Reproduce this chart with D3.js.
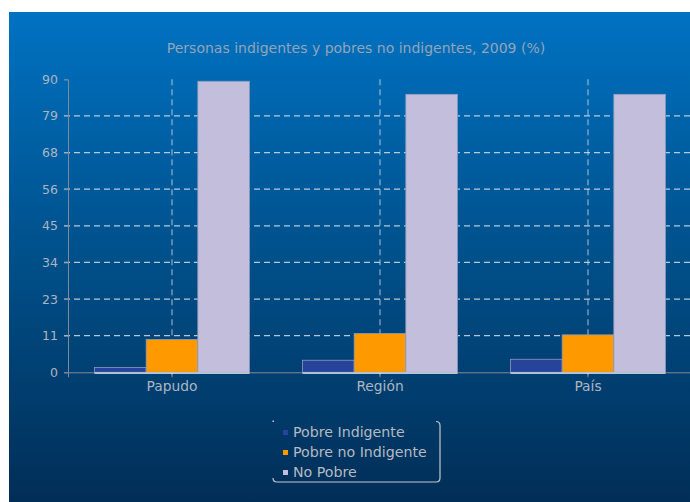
<!DOCTYPE html>
<html><head><meta charset="utf-8">
<script src="https://cdn.jsdelivr.net/npm/d3@7"></script>
<style>body{margin:0;background:#fff}svg{display:block}text{font-family:"DejaVu Sans",sans-serif}</style>
</head><body><svg id="c" width="690" height="502"></svg>
<script>
const categories = ["Papudo", "Región", "País"];
const series = ["Pobre Indigente", "Pobre no Indigente", "No Pobre"];
const pobreIndigente = [1.5, 3.7, 4.0];
const pobreNoIndigente = [10.1, 11.9, 11.5];
const noPobre = [89.4, 85.4, 85.4];
const tickValues = [0, 11.25, 22.5, 33.75, 45, 56.25, 67.5, 78.75, 90];
const tickLabels = ["0", "11", "23", "34", "45", "56", "68", "79", "90"];
const colors = ["#27449a", "#ff9900", "#c3bedc"];
const title = "Personas indigentes y pobres no indigentes, 2009 (%)";

const values = [pobreIndigente, pobreNoIndigente, noPobre];
const svg = d3.select("#c");
const defs = svg.append("defs");
const g = defs.append("linearGradient").attr("id","bg").attr("x1",0).attr("y1",0).attr("x2",0).attr("y2",1);
g.append("stop").attr("offset","0%").attr("stop-color","#0072c2");
g.append("stop").attr("offset","45%").attr("stop-color","#00538f");
g.append("stop").attr("offset","100%").attr("stop-color","#012e57");
svg.append("rect").attr("x",9).attr("y",12).attr("width",681).attr("height",490).attr("fill","url(#bg)");

svg.append("text").attr("x",356).attr("y",52.5).attr("text-anchor","middle")
  .attr("font-size",14).attr("fill","#93a5b9").text(title);

const L = 68, R = 692, T = 79.3, B = 372.3;
const y = d3.scaleLinear().domain([0,90]).range([B,T]);
const x0 = d3.scaleBand().domain(categories).range([L,R]).paddingInner(0.255).paddingOuter(0.1275);
const x1 = d3.scaleBand().domain(series).range([0,x0.bandwidth()]);

// horizontal grid
svg.append("g").selectAll("line").data(tickValues.filter(v=>v>0&&v<90)).join("line")
  .attr("x1",L-4).attr("x2",R).attr("y1",d=>y(d)).attr("y2",d=>y(d))
  .attr("stroke","#d4deea").attr("stroke-opacity",0.85).attr("stroke-dasharray","6,4").attr("stroke-width",1.2);
// vertical grid at category centers
svg.append("g").selectAll("line").data(categories).join("line")
  .attr("x1",d=>x0(d)+x0.bandwidth()/2).attr("x2",d=>x0(d)+x0.bandwidth()/2)
  .attr("y1",T).attr("y2",B+5)
  .attr("stroke","#d4deea").attr("stroke-opacity",0.8).attr("stroke-dasharray","6,4").attr("stroke-width",1);

// axes
const yAxis = d3.axisLeft(y).tickValues(tickValues).tickFormat((d,i)=>tickLabels[i]).tickSize(4).tickPadding(6);
const ya = svg.append("g").attr("transform",`translate(${L},0)`).call(yAxis);
ya.select(".domain").attr("stroke","#7d8a99");
ya.selectAll(".tick line").attr("stroke","#7d8a99");
ya.selectAll("text").attr("font-size",12.5).attr("fill","#aab5c2").attr("font-family","DejaVu Sans");

const xAxis = d3.axisBottom(x0).tickSize(5).tickPadding(4);
const xa = svg.append("g").attr("transform",`translate(0,${B})`).call(xAxis);
xa.select(".domain").attr("stroke","#7d8a99");
xa.selectAll(".tick line").attr("stroke","#7d8a99");
xa.selectAll("text").attr("font-size",13.8).attr("fill","#aab5c2").attr("font-family","DejaVu Sans");

// bars
const grp = svg.append("g").selectAll("g").data(categories).join("g")
  .attr("transform",d=>`translate(${x0(d)},0)`);
grp.selectAll("rect").data((c,ci)=>series.map((s,si)=>({s,si,v:values[si][ci]}))).join("rect")
  .attr("x",d=>x1(d.s)).attr("width",x1.bandwidth())
  .attr("y",d=>y(d.v)).attr("height",d=>B-y(d.v))
  .attr("fill",d=>colors[d.si]).attr("stroke","#8a9ac0").attr("stroke-width",0.8);
grp.append("line").attr("x1",0).attr("x2",x0.bandwidth()).attr("y1",B+0.8).attr("y2",B+0.8)
  .attr("stroke","#e8ecf4").attr("stroke-width",1.3);

// legend
const lg = svg.append("g");
lg.append("path").attr("d","M436,421.5 Q440,421.5 440,425.5 L440,478 Q440,482 436,482 L277,482 Q273,482 273,478")
  .attr("fill","none").attr("stroke","#c4c8d0").attr("stroke-width",1.2);
lg.append("rect").attr("x",272.5).attr("y",420.5).attr("width",1.5).attr("height",1.5).attr("fill","#c4c8d0");
const ly = d3.scalePoint().domain(series).range([431.5,471.5]);
series.forEach((s,i)=>{
  lg.append("rect").attr("x",283).attr("y",ly(s)-1.5).attr("width",5).attr("height",5).attr("fill",colors[i]);
  lg.append("text").attr("x",293).attr("y",ly(s)+5.5).attr("font-size",14.2).attr("fill","#b4b9c2").text(s);
});
</script></body></html>
